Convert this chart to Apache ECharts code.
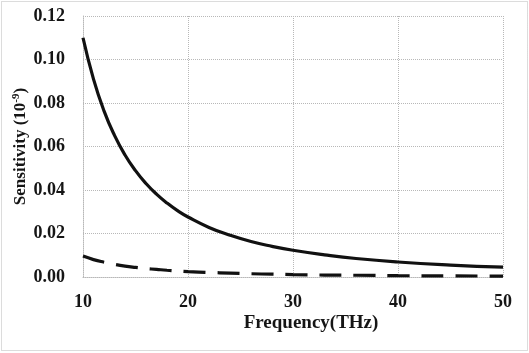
<!DOCTYPE html>
<html>
<head>
<meta charset="utf-8">
<script src="https://cdn.jsdelivr.net/npm/echarts@6/dist/echarts.min.js"></script>
<style>
  html, body { margin: 0; padding: 0; background: #fff; }
  #chart { width: 529px; height: 353px; }
</style>
</head>
<body>
<div id="chart"></div>
<script>
// frequency (THz) and sensitivity values
const freq = [10, 11, 12, 13, 14, 15, 16, 17, 18, 19, 20, 22, 24, 26, 28, 30, 33, 36, 40, 45, 50];
const solidVals = [0.110, 0.0910, 0.0764, 0.0651, 0.0561, 0.0489, 0.0430, 0.0381, 0.0340, 0.0305, 0.0276,
  0.0228, 0.0192, 0.0163, 0.0141, 0.0123, 0.0102, 0.0085, 0.0069, 0.0055, 0.0045];
const dashedVals = [0.0096, 0.0080, 0.0068, 0.0058, 0.0050, 0.0044, 0.0039, 0.0035, 0.0031, 0.0028, 0.0025,
  0.0021, 0.0018, 0.0015, 0.0013, 0.0011, 0.0009, 0.0008, 0.0006, 0.0005, 0.0004];
const xTicks = [10, 20, 30, 40, 50];

const gridLine = { color: "#b8b8b8", type: [1, 1], width: 1 };
const labelFont = { fontFamily: "Liberation Serif", fontWeight: "bold", color: "#151515" };

const chart = echarts.init(document.getElementById("chart"));
chart.setOption({
  animation: false,
  grid: { left: 83, right: 26, top: 16, bottom: 76, outerBoundsMode: "none" },
  graphic: [{
    type: "rect",
    shape: { x: 1.5, y: 1.5, width: 526, height: 349 },
    style: { fill: null, stroke: "#b8b8b8", lineWidth: 1, lineDash: [1, 1] },
  }],
  xAxis: {
    type: "value",
    min: xTicks[0],
    max: xTicks[xTicks.length - 1],
    interval: 10,
    name: "Frequency(THz)",
    nameLocation: "middle",
    nameGap: 37,
    nameMoveOverlap: false,
    nameTextStyle: { ...labelFont, fontSize: 19, padding: [0, 0, 0, 36] },
    axisLine: { lineStyle: gridLine },
    axisTick: { show: false },
    axisLabel: { ...labelFont, fontSize: 18, margin: 16 },
    splitLine: { show: true, lineStyle: gridLine },
  },
  yAxis: {
    type: "value",
    min: 0,
    max: 0.12,
    interval: 0.02,
    name: "{n|Sensitivity (10}{s|-9}{n|)}",
    nameLocation: "middle",
    nameGap: 53,
    nameMoveOverlap: false,
    nameTextStyle: {
      rich: {
        n: { ...labelFont, fontSize: 17 },
        s: { ...labelFont, fontSize: 11, verticalAlign: "top", padding: [0, 0, 8, 0] },
      },
    },
    axisLine: { show: true, lineStyle: gridLine },
    axisTick: { show: false },
    axisLabel: { ...labelFont, fontSize: 18, margin: 18, formatter: (v) => v.toFixed(2) },
    splitLine: { show: true, lineStyle: gridLine },
  },
  series: [
    {
      type: "line",
      smooth: true,
      showSymbol: false,
      data: freq.map((f, i) => [f, solidVals[i]]),
      lineStyle: { color: "#111", width: 3.2 },
    },
    {
      type: "line",
      smooth: true,
      showSymbol: false,
      data: freq.map((f, i) => [f, dashedVals[i]]),
      lineStyle: { color: "#111", width: 3.2, type: [22, 12] },
    },
  ],
});
</script>
</body>
</html>
